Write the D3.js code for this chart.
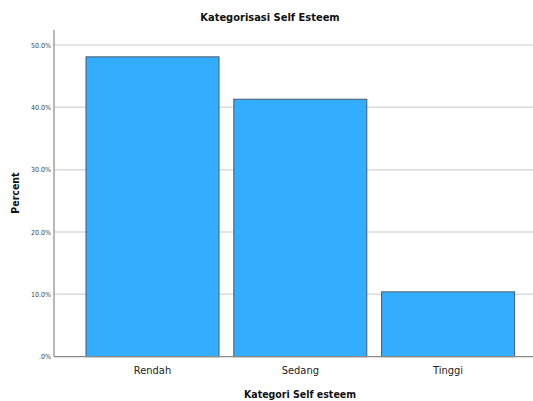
<!DOCTYPE html>
<html><head><meta charset="utf-8">
<script src="https://cdn.jsdelivr.net/npm/d3@7"></script>
<style>body{margin:0;background:#fff}</style>
</head><body>
<svg id="c" width="533" height="401"></svg>
<script>
const categories = ["Rendah", "Sedang", "Tinggi"];
const percents = [48.1, 41.3, 10.4];
const yTicks = [0, 10, 20, 30, 40, 50];
const tickLabels = [".0%", "10.0%", "20.0%", "30.0%", "40.0%", "50.0%"];

const svg = d3.select("#c");
const font = "'Liberation Sans Narrow','DejaVu Sans Condensed','Liberation Sans',sans-serif";
const x0 = 54, x1 = 533, yTop = 30, yBot = 356.7;
const y = d3.scaleLinear().domain([0, 50]).range([yBot, 45]);
const x = d3.scaleBand().domain(categories).range([78.6, 522]).paddingInner(0.1).paddingOuter(0.05);

// gridlines
svg.append("g").selectAll("line").data(yTicks.slice(1)).join("line")
  .attr("x1", x0).attr("x2", x1).attr("y1", d => y(d)).attr("y2", d => y(d))
  .attr("stroke", "#dcdcdc").attr("stroke-width", 1.5);

// bars
svg.append("g").selectAll("rect").data(percents).join("rect")
  .attr("x", (d, i) => x(categories[i])).attr("width", x.bandwidth())
  .attr("y", d => y(d)).attr("height", d => yBot - y(d))
  .attr("fill", "#33adff").attr("stroke", "#4a5a66").attr("stroke-width", 1);

// axes lines
svg.append("line").attr("x1", x0).attr("x2", x0).attr("y1", yTop).attr("y2", yBot)
  .attr("stroke", "#8a8a8a").attr("stroke-width", 1.2);
svg.append("line").attr("x1", x0).attr("x2", x1).attr("y1", yBot).attr("y2", yBot)
  .attr("stroke", "#8a8a8a").attr("stroke-width", 1.2);

// y tick labels
svg.append("g").selectAll("text").data(yTicks).join("text")
  .attr("x", x0 - 3).attr("y", d => y(d) + 2.5).attr("text-anchor", "end")
  .attr("font-family", font).attr("font-size", 7).attr("fill", "#444")
  .text((d, i) => tickLabels[i]);

// x labels
svg.append("g").selectAll("text").data(categories).join("text")
  .attr("x", d => x(d) + x.bandwidth() / 2).attr("y", 374).attr("text-anchor", "middle")
  .attr("font-family", font).attr("font-size", 11).attr("fill", "#222")
  .text(d => d);

// titles
svg.append("text").attr("x", 270).attr("y", 21).attr("text-anchor", "middle")
  .attr("font-family", font).attr("font-size", 11).attr("font-weight", "bold").attr("fill", "#111")
  .text("Kategorisasi Self Esteem");
svg.append("text").attr("x", 300).attr("y", 398).attr("text-anchor", "middle")
  .attr("font-family", font).attr("font-size", 10.5).attr("font-weight", "bold").attr("fill", "#111")
  .text("Kategori Self esteem");
svg.append("text").attr("transform", "translate(19,193) rotate(-90)").attr("text-anchor", "middle")
  .attr("font-family", font).attr("font-size", 10.5).attr("font-weight", "bold").attr("fill", "#111")
  .text("Percent");
</script>
</body></html>
